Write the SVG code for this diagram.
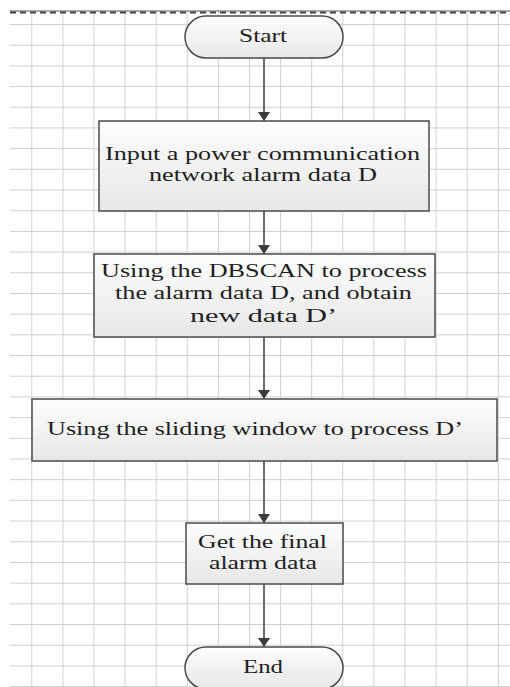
<svg xmlns="http://www.w3.org/2000/svg" width="510" height="687" viewBox="0 0 510 687">
<defs>
<linearGradient id="fillg" x1="0" y1="0" x2="0" y2="1">
<stop offset="0" stop-color="#fdfdfd"/>
<stop offset="1" stop-color="#e7e7e7"/>
</linearGradient>
<pattern id="grid" x="0" y="0" width="31.1" height="20.69" patternUnits="userSpaceOnUse" patternTransform="translate(31.3 24)">
<path d="M0.5 0 V20.69 M0 0.5 H31.1" fill="none" stroke="#cfcfcf" stroke-width="1"/>
</pattern>
<marker id="arr" viewBox="0 0 9 12" refX="9" refY="6" markerWidth="9" markerHeight="12" markerUnits="userSpaceOnUse" orient="auto">
<path d="M0 0 L9 6 L0 12 Z" fill="#3c3c3c"/>
</marker>
</defs>
<style>
.box{fill:url(#fillg);stroke:#4a4a4a;stroke-width:1.5}
.t{font-family:"Liberation Serif","Times New Roman",serif;font-size:18px;fill:#1e1e1e;text-anchor:middle}
.edge{stroke:#3c3c3c;stroke-width:1.5;fill:none}
</style>
<rect width="510" height="687" fill="#ffffff"/>
<rect x="10" y="11" width="500" height="676" fill="url(#grid)"/>
<line x1="10" y1="11" x2="510" y2="11" stroke="#555" stroke-width="1"/>
<line x1="10" y1="12.5" x2="510" y2="12.5" stroke="#444" stroke-width="2" stroke-dasharray="6 4"/>

<g id="connectors">
<line class="edge" x1="264" y1="58" x2="264" y2="121" marker-end="url(#arr)"/>
<line class="edge" x1="264" y1="211" x2="264" y2="254" marker-end="url(#arr)"/>
<line class="edge" x1="264" y1="337" x2="264" y2="399" marker-end="url(#arr)"/>
<line class="edge" x1="264" y1="461" x2="264" y2="523" marker-end="url(#arr)"/>
<line class="edge" x1="264" y1="584" x2="264" y2="647" marker-end="url(#arr)"/>
</g>

<g id="start">
<rect class="box" x="185" y="16" width="158" height="42" rx="21" ry="21"/>
<text class="t" x="263" y="42" textLength="48" lengthAdjust="spacingAndGlyphs">Start</text>
</g>

<g id="input">
<rect class="box" x="99" y="121" width="330" height="90"/>
<text class="t" x="262.5" y="160" textLength="315" lengthAdjust="spacingAndGlyphs">Input a power communication</text>
<text class="t" x="263" y="181" textLength="228" lengthAdjust="spacingAndGlyphs">network alarm data D</text>
</g>

<g id="dbscan">
<rect class="box" x="94" y="254" width="341" height="83"/>
<text class="t" x="264" y="277" textLength="326" lengthAdjust="spacingAndGlyphs">Using the DBSCAN to process</text>
<text class="t" x="263.5" y="299" textLength="297" lengthAdjust="spacingAndGlyphs">the alarm data D, and obtain</text>
<text class="t" x="263.5" y="322" textLength="147" lengthAdjust="spacingAndGlyphs">new data D’</text>
</g>

<g id="window">
<rect class="box" x="32" y="399" width="465" height="62"/>
<text class="t" x="255" y="435" textLength="416" lengthAdjust="spacingAndGlyphs">Using the sliding window to process D’</text>
</g>

<g id="final">
<rect class="box" x="186" y="523" width="157" height="61"/>
<text class="t" x="262.5" y="548" textLength="129" lengthAdjust="spacingAndGlyphs">Get the final</text>
<text class="t" x="263" y="569" textLength="108" lengthAdjust="spacingAndGlyphs">alarm data</text>
</g>

<g id="end">
<rect class="box" x="185" y="647" width="158" height="42" rx="21" ry="21"/>
<text class="t" x="263" y="673" textLength="40" lengthAdjust="spacingAndGlyphs">End</text>
</g>
</svg>
